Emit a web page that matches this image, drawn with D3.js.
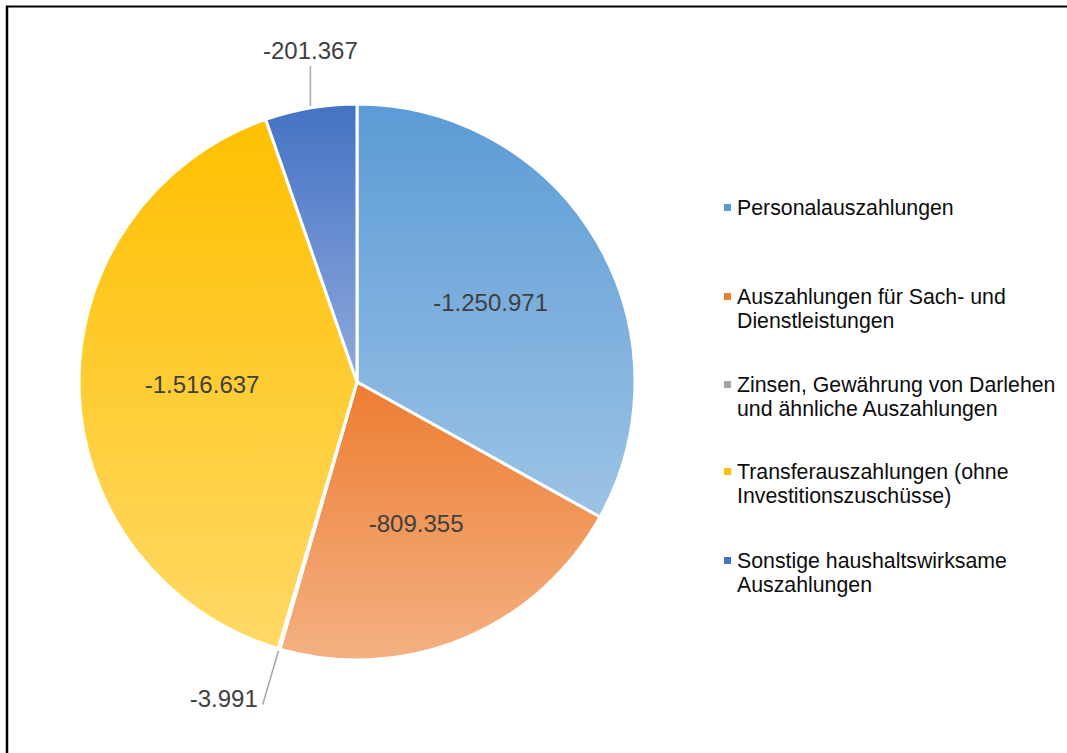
<!DOCTYPE html>
<html>
<head>
<meta charset="utf-8">
<script src="https://cdn.jsdelivr.net/npm/d3@7"></script>
<style>
  html, body { margin: 0; padding: 0; background: #fff; }
  svg { display: block; font-family: "Liberation Sans", Arial, sans-serif; }
</style>
</head>
<body>
<div id="chart"></div>
<script>
// Auszahlungen nach Arten (Werte in EUR)
const categories = [
  'Personalauszahlungen',
  'Auszahlungen für Sach- und Dienstleistungen',
  'Zinsen, Gewährung von Darlehen und ähnliche Auszahlungen',
  'Transferauszahlungen (ohne Investitionszuschüsse)',
  'Sonstige haushaltswirksame Auszahlungen'
];
const values = [-1250971, -809355, -3991, -1516637, -201367];
// legend text split in lines, as in the original
const legendLines = [
  ['Personalauszahlungen'],
  ['Auszahlungen für Sach- und', 'Dienstleistungen'],
  ['Zinsen, Gewährung von Darlehen', 'und ähnliche Auszahlungen'],
  ['Transferauszahlungen (ohne', 'Investitionszuschüsse)'],
  ['Sonstige haushaltswirksame', 'Auszahlungen']
];
const colorTop    = ['#5b9bd5', '#ed7d31', '#a5a5a5', '#ffc000', '#4472c4'];
const colorBottom = ['#9dc3e6', '#f4b183', '#c9c9c9', '#ffd966', '#8faadc'];

const W = 1067, H = 753;
const cx = 357, cy = 382, R = 278;

const de = d3.formatLocale({ decimal: ',', thousands: '.', grouping: [3], currency: ['', ' €'], minus: '-' });
const fmt = de.format(',d');

const svg = d3.select('#chart').append('svg')
  .attr('width', W).attr('height', H);

// frame (only top and left edges are visible in the original)
svg.append('line').attr('x1', 6).attr('y1', 6.5).attr('x2', W).attr('y2', 6.5)
  .attr('stroke', '#000').attr('stroke-width', 2);
svg.append('line').attr('x1', 7).attr('y1', 6).attr('x2', 7).attr('y2', H)
  .attr('stroke', '#000').attr('stroke-width', 2.5);

// gradients per slice
const defs = svg.append('defs');
categories.forEach((c, i) => {
  const g = defs.append('linearGradient')
    .attr('id', `grad-${i}`)
    .attr('x1', 0).attr('y1', 0).attr('x2', 0).attr('y2', 1);
  g.append('stop').attr('offset', '0%').attr('stop-color', colorTop[i]);
  g.append('stop').attr('offset', '100%').attr('stop-color', colorBottom[i]);
});

const data = categories.map((c, i) => ({ name: c, value: values[i], i }));
const total = d3.sum(values, v => Math.abs(v));

const pie = d3.pie().value(d => Math.abs(d.value)).sort(null);
const arcs = pie(data);
const arc = d3.arc().innerRadius(0).outerRadius(R);
const labelArc = d3.arc().innerRadius(155).outerRadius(155);

const gPie = svg.append('g').attr('transform', `translate(${cx},${cy})`);

gPie.selectAll('path.slice')
  .data(arcs)
  .join('path')
  .attr('class', 'slice')
  .attr('d', arc)
  .attr('fill', d => `url(#grad-${d.data.i})`)
  .attr('stroke', '#fff')
  .attr('stroke-width', 3)
  .attr('stroke-linejoin', 'round');

// inside labels for big slices
const isSmall = d => Math.abs(d.data.value) / total < 0.06;
gPie.selectAll('text.inside')
  .data(arcs.filter(d => !isSmall(d)))
  .join('text')
  .attr('class', 'inside')
  .attr('transform', d => `translate(${labelArc.centroid(d)})`)
  .attr('text-anchor', 'middle')
  .attr('dy', '0.3em')
  .attr('font-size', 24)
  .attr('fill', '#404040')
  .text(d => fmt(d.data.value));

// outside labels with leader lines for small slices
const leaderLen = d => (d.endAngle - d.startAngle) < 0.05 ? 58 : 40;
const small = arcs.filter(isSmall);
small.forEach(d => {
  const a = (d.startAngle + d.endAngle) / 2;
  const p = r => [Math.sin(a) * r, -Math.cos(a) * r];
  const p1 = p(R + 2);
  let p2 = p(R + leaderLen(d));
  const above = Math.cos(a) > 0.5;
  if (above) p2 = [p1[0], p1[1] - leaderLen(d)];
  gPie.append('line')
    .attr('x1', p1[0]).attr('y1', p1[1])
    .attr('x2', p2[0]).attr('y2', p2[1])
    .attr('stroke', '#a6a6a6').attr('stroke-width', 1.5);
  const t = gPie.append('text')
    .attr('font-size', 24)
    .attr('fill', '#404040')
    .text(fmt(d.data.value));
  if (above) {
    t.attr('x', p2[0]).attr('y', p2[1] - 7).attr('text-anchor', 'middle');
  } else {
    t.attr('x', p2[0] - 5).attr('y', p2[1] + 2).attr('text-anchor', 'end');
  }
});

// legend
const legendY = [208, 297, 385, 472, 561];
const legend = svg.append('g');
legendLines.forEach((lines, i) => {
  const g = legend.append('g').attr('transform', `translate(724,${legendY[i]})`);
  g.append('rect')
    .attr('x', 0).attr('y', -4).attr('width', 7).attr('height', 7)
    .attr('fill', colorTop[i]);
  const t = g.append('text')
    .attr('x', 13).attr('y', 0)
    .attr('font-size', 21.3)
    .attr('fill', '#0d0d0d');
  lines.forEach((l, k) => {
    t.append('tspan').attr('x', 13).attr('dy', k === 0 ? '0.35em' : 24).text(l);
  });
});
</script>
</body>
</html>
